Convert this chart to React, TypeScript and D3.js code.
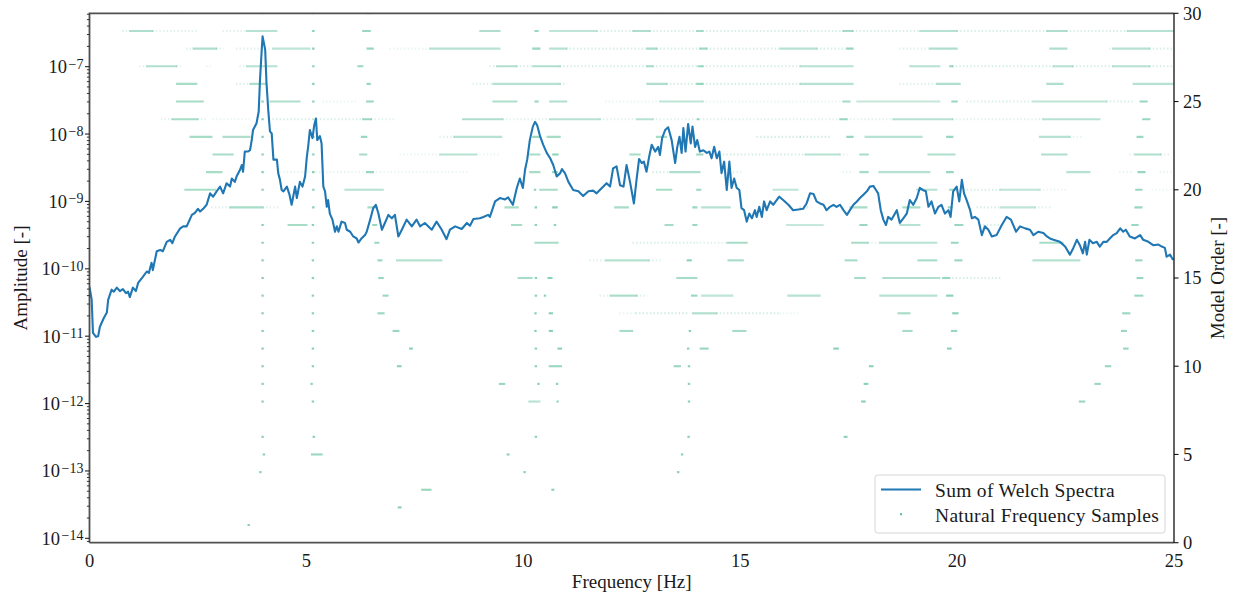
import * as d3 from 'd3';
import { useEffect, useRef } from 'react';

const WIDTH = 1234;
const HEIGHT = 594;
const LINE_COLOR = '#1f77b4';
const SAMPLE_COLOR = '#5dbf98';
const TEXT_COLOR = '#1a1a1a';
const FONT = '"Liberation Serif", "Times New Roman", serif';

const freqTicks = [0, 5, 10, 15, 20, 25];
const orderTicks = [0, 5, 10, 15, 20, 25, 30];
const amplitudeExponents = [-14, -13, -12, -11, -10, -9, -8, -7];

// [frequency in Hz, log10 of the summed Welch amplitude]
const welchSpectrum: [number, number][] = [
  [0, -10.27], [0.05, -10.46], [0.08, -10.95], [0.15, -11.01], [0.2, -11.0], [0.24, -10.86],
  [0.33, -10.73], [0.4, -10.65], [0.43, -10.46], [0.51, -10.31], [0.56, -10.34], [0.63, -10.28],
  [0.7, -10.33], [0.77, -10.3], [0.84, -10.36], [0.89, -10.34], [0.93, -10.42], [1.0, -10.28],
  [1.07, -10.33], [1.12, -10.21], [1.23, -10.12], [1.32, -10.04], [1.37, -10.06], [1.43, -9.91],
  [1.46, -10.02], [1.55, -9.74], [1.63, -9.72], [1.69, -9.74], [1.78, -9.6], [1.86, -9.57],
  [1.91, -9.62], [1.97, -9.52], [2.09, -9.4], [2.16, -9.37], [2.24, -9.37], [2.29, -9.3],
  [2.36, -9.2], [2.43, -9.17], [2.5, -9.11], [2.55, -9.15], [2.62, -9.11], [2.7, -9.05],
  [2.78, -8.88], [2.85, -8.93], [2.93, -8.85], [3.01, -8.78], [3.08, -8.88], [3.16, -8.73],
  [3.24, -8.78], [3.28, -8.66], [3.35, -8.71], [3.39, -8.63], [3.47, -8.53], [3.51, -8.46],
  [3.54, -8.56], [3.58, -8.26], [3.65, -8.26], [3.7, -8.24], [3.74, -8.09], [3.77, -7.94],
  [3.85, -7.84], [3.9, -7.67], [3.93, -7.2], [3.97, -6.75], [3.99, -6.55], [4.05, -6.75],
  [4.08, -7.24], [4.12, -7.64], [4.16, -7.96], [4.2, -7.99], [4.24, -8.38], [4.32, -8.38],
  [4.35, -8.58], [4.39, -8.68], [4.43, -8.83], [4.47, -8.85], [4.55, -8.78], [4.61, -8.9],
  [4.66, -9.05], [4.74, -8.78], [4.78, -8.95], [4.85, -8.71], [4.91, -8.78], [4.97, -8.63],
  [5.01, -8.34], [5.04, -8.19], [5.08, -7.94], [5.14, -8.06], [5.18, -7.87], [5.22, -7.77],
  [5.25, -8.09], [5.31, -8.03], [5.35, -8.14], [5.39, -8.78], [5.43, -8.85], [5.47, -9.08],
  [5.5, -8.98], [5.54, -9.18], [5.6, -9.27], [5.66, -9.45], [5.7, -9.37], [5.74, -9.45],
  [5.81, -9.3], [5.89, -9.32], [5.93, -9.42], [6.01, -9.45], [6.08, -9.52], [6.16, -9.55],
  [6.2, -9.61], [6.27, -9.55], [6.35, -9.5], [6.39, -9.45], [6.47, -9.27], [6.54, -9.1],
  [6.6, -9.05], [6.66, -9.18], [6.74, -9.42], [6.81, -9.32], [6.89, -9.2], [6.97, -9.25],
  [7.04, -9.2], [7.12, -9.52], [7.2, -9.42], [7.31, -9.27], [7.43, -9.37], [7.54, -9.27],
  [7.62, -9.37], [7.73, -9.32], [7.89, -9.42], [8.0, -9.3], [8.12, -9.42], [8.23, -9.56],
  [8.31, -9.42], [8.43, -9.37], [8.58, -9.41], [8.7, -9.32], [8.77, -9.36], [8.85, -9.26],
  [9.0, -9.25], [9.08, -9.23], [9.19, -9.2], [9.23, -9.23], [9.35, -9.0], [9.46, -8.95],
  [9.58, -8.97], [9.65, -8.94], [9.76, -9.05], [9.85, -8.8], [9.92, -8.66], [9.99, -8.8],
  [10.04, -8.53], [10.09, -8.38], [10.15, -8.09], [10.22, -7.89], [10.27, -7.82], [10.32, -7.87],
  [10.39, -8.04], [10.46, -8.16], [10.54, -8.28], [10.62, -8.36], [10.69, -8.46], [10.77, -8.63],
  [10.85, -8.58], [10.89, -8.52], [10.96, -8.58], [11.04, -8.71], [11.15, -8.83], [11.27, -8.85],
  [11.38, -8.92], [11.5, -8.85], [11.61, -8.84], [11.69, -8.88], [11.81, -8.8], [11.92, -8.73],
  [12.0, -8.78], [12.07, -8.51], [12.15, -8.48], [12.23, -8.76], [12.31, -8.78], [12.38, -8.46],
  [12.46, -8.71], [12.55, -9.03], [12.61, -8.68], [12.67, -8.37], [12.73, -8.43], [12.78, -8.41],
  [12.84, -8.56], [12.9, -8.34], [12.96, -8.16], [13.04, -8.26], [13.11, -8.19], [13.15, -8.31],
  [13.2, -8.06], [13.27, -7.94], [13.34, -7.9], [13.42, -8.09], [13.5, -8.43], [13.55, -8.19],
  [13.6, -8.04], [13.65, -8.28], [13.69, -7.91], [13.74, -8.26], [13.8, -7.85], [13.86, -8.14],
  [13.9, -7.89], [13.96, -8.19], [14.01, -8.09], [14.07, -8.26], [14.15, -8.24], [14.23, -8.28],
  [14.29, -8.26], [14.34, -8.36], [14.4, -8.19], [14.46, -8.36], [14.52, -8.26], [14.57, -8.58],
  [14.63, -8.41], [14.69, -8.83], [14.75, -8.41], [14.8, -8.8], [14.86, -8.66], [14.92, -8.8],
  [14.98, -8.83], [15.03, -9.1], [15.09, -9.13], [15.15, -9.3], [15.21, -9.18], [15.27, -9.25],
  [15.34, -9.13], [15.38, -9.23], [15.44, -9.08], [15.5, -9.23], [15.55, -9.0], [15.61, -9.13],
  [15.69, -9.0], [15.76, -9.05], [15.9, -8.93], [15.99, -8.98], [16.11, -9.05], [16.22, -9.13],
  [16.34, -9.12], [16.45, -9.11], [16.53, -9.03], [16.61, -8.88], [16.69, -8.89], [16.76, -9.0],
  [16.84, -9.03], [16.92, -9.05], [16.99, -9.13], [17.07, -9.08], [17.15, -9.05], [17.22, -9.08],
  [17.3, -9.05], [17.38, -9.13], [17.46, -9.2], [17.53, -9.13], [17.61, -9.05], [17.69, -9.0],
  [17.76, -8.95], [17.84, -8.9], [17.92, -8.85], [17.99, -8.78], [18.07, -8.77], [18.13, -8.83],
  [18.18, -8.88], [18.24, -9.13], [18.3, -9.27], [18.36, -9.35], [18.41, -9.23], [18.49, -9.27],
  [18.61, -9.13], [18.68, -9.32], [18.76, -9.25], [18.84, -9.18], [18.91, -8.98], [18.99, -9.05],
  [19.07, -8.95], [19.14, -8.8], [19.21, -8.83], [19.28, -8.85], [19.34, -9.08], [19.41, -9.0],
  [19.49, -9.18], [19.57, -9.08], [19.64, -9.05], [19.72, -9.18], [19.8, -9.13], [19.85, -9.23],
  [19.91, -8.85], [19.99, -8.78], [20.05, -9.0], [20.11, -8.68], [20.16, -8.88], [20.22, -8.98],
  [20.3, -9.13], [20.34, -9.25], [20.41, -9.23], [20.49, -9.27], [20.57, -9.5], [20.64, -9.37],
  [20.72, -9.42], [20.8, -9.52], [20.91, -9.5], [21.03, -9.35], [21.14, -9.23], [21.24, -9.27],
  [21.36, -9.45], [21.45, -9.37], [21.57, -9.4], [21.68, -9.42], [21.76, -9.5], [21.87, -9.45],
  [21.99, -9.47], [22.07, -9.52], [22.14, -9.55], [22.22, -9.57], [22.37, -9.6], [22.49, -9.67],
  [22.6, -9.79], [22.68, -9.69], [22.76, -9.57], [22.83, -9.65], [22.9, -9.77], [22.95, -9.6],
  [22.99, -9.79], [23.05, -9.57], [23.13, -9.62], [23.22, -9.6], [23.29, -9.67], [23.37, -9.6],
  [23.45, -9.6], [23.52, -9.55], [23.6, -9.5], [23.68, -9.47], [23.76, -9.4], [23.83, -9.45],
  [23.89, -9.42], [23.98, -9.52], [24.1, -9.55], [24.22, -9.5], [24.29, -9.57], [24.41, -9.6],
  [24.52, -9.65], [24.64, -9.64], [24.72, -9.67], [24.79, -9.69], [24.83, -9.82], [24.91, -9.79],
  [24.98, -9.87],
];

// [model order, lowest frequency, highest frequency, sample density]
const frequencySamples: [number, number, number, number][] = [
  [1, 3.67, 3.67, 0.8],
  [2, 7.12, 7.18, 0.8],
  [3, 7.66, 7.87, 0.7], [3, 10.66, 10.7, 0.8],
  [4, 3.94, 3.94, 0.8], [4, 10.03, 10.03, 0.8], [4, 13.57, 13.57, 0.8],
  [5, 4.02, 4.02, 0.8], [5, 5.12, 5.36, 0.7], [5, 9.63, 9.67, 0.8], [5, 13.66, 13.66, 0.8],
  [6, 3.99, 3.99, 0.8], [6, 5.17, 5.17, 0.8], [6, 10.29, 10.29, 0.8], [6, 13.81, 13.81, 0.8], [6, 17.4, 17.46, 0.8],
  [8, 3.99, 3.99, 0.8], [8, 5.15, 5.15, 0.8], [8, 10.13, 10.38, 0.5], [8, 10.78, 10.8, 0.8], [8, 13.82, 13.82, 0.8],
  [8, 17.8, 17.88, 0.8], [8, 22.82, 22.94, 0.7],
  [9, 3.99, 3.99, 0.8], [9, 5.12, 5.12, 0.8], [9, 9.45, 9.57, 0.7], [9, 10.35, 10.35, 0.8], [9, 10.78, 10.78, 0.8],
  [9, 13.82, 13.82, 0.8], [9, 17.86, 17.94, 0.8], [9, 23.18, 23.3, 0.7],
  [10, 3.99, 3.99, 0.8], [10, 5.15, 5.15, 0.8], [10, 7.1, 7.18, 0.8], [10, 10.29, 10.29, 0.8], [10, 10.6, 10.88, 0.7],
  [10, 13.48, 13.62, 0.7], [10, 13.82, 13.82, 0.8], [10, 17.98, 18.06, 0.8], [10, 23.42, 23.54, 0.7],
  [11, 3.99, 3.99, 0.8], [11, 5.15, 5.15, 0.8], [11, 7.38, 7.44, 0.8], [11, 10.29, 10.29, 0.8], [11, 10.8, 10.88, 0.8],
  [11, 13.8, 13.8, 0.8], [11, 14.08, 14.26, 0.7], [11, 17.16, 17.26, 0.8], [11, 19.78, 19.86, 0.8], [11, 23.84, 23.94, 0.7],
  [12, 3.99, 3.99, 0.8], [12, 5.15, 5.15, 0.8], [12, 7.0, 7.13, 0.7], [12, 10.28, 10.28, 0.8], [12, 10.6, 10.67, 0.8],
  [12, 12.23, 12.52, 0.6], [12, 13.84, 13.84, 0.8], [12, 14.83, 15.13, 0.6], [12, 18.75, 18.96, 0.6],
  [12, 19.87, 19.99, 0.7], [12, 23.79, 23.9, 0.7],
  [13, 3.99, 3.99, 0.8], [13, 5.15, 5.15, 0.8], [13, 6.65, 6.79, 0.7], [13, 10.28, 10.28, 0.8], [13, 10.6, 10.67, 0.8],
  [13, 12.23, 12.6, 0.15], [13, 12.6, 13.77, 0.3], [13, 13.9, 14.46, 0.55], [13, 14.46, 15.92, 0.28],
  [13, 15.92, 16.4, 0.12], [13, 18.64, 18.91, 0.6], [13, 19.9, 20.02, 0.8], [13, 23.82, 23.98, 0.7],
  [14, 3.99, 3.99, 0.8], [14, 5.15, 5.15, 0.8], [14, 6.77, 6.88, 0.7], [14, 10.29, 10.29, 0.8], [14, 10.5, 10.5, 0.8],
  [14, 11.77, 12.0, 0.2], [14, 12.0, 12.62, 0.6], [14, 12.62, 12.85, 0.2], [14, 13.88, 14.0, 0.7],
  [14, 14.11, 14.83, 0.45], [14, 16.1, 16.84, 0.5], [14, 18.22, 19.53, 0.5], [14, 19.76, 19.9, 0.8], [14, 24.1, 24.28, 0.7],
  [15, 3.99, 3.99, 0.8], [15, 5.15, 5.15, 0.8], [15, 6.67, 6.77, 0.7], [15, 9.88, 10.2, 0.6], [15, 10.29, 10.29, 0.8],
  [15, 10.57, 10.66, 0.8], [15, 13.54, 14.0, 0.6], [15, 17.64, 17.88, 0.6], [15, 18.29, 19.6, 0.55],
  [15, 19.67, 19.83, 0.7], [15, 19.9, 21.0, 0.28], [15, 24.15, 24.28, 0.7],
  [16, 3.99, 3.99, 0.8], [16, 5.15, 5.15, 0.8], [16, 6.65, 6.74, 0.7], [16, 7.08, 8.12, 0.5], [16, 11.54, 11.9, 0.2],
  [16, 11.9, 12.9, 0.5], [16, 12.9, 13.15, 0.2], [16, 13.78, 13.87, 0.8], [16, 14.72, 15.07, 0.6],
  [16, 17.42, 17.69, 0.6], [16, 19.1, 19.53, 0.6], [16, 19.95, 20.11, 0.7], [16, 21.75, 22.83, 0.5], [16, 24.12, 24.26, 0.7],
  [17, 3.99, 3.99, 0.8], [17, 5.15, 5.15, 0.8], [17, 6.58, 6.67, 0.7], [17, 10.27, 10.8, 0.6], [17, 12.53, 14.0, 0.25],
  [17, 14.0, 14.7, 0.2], [17, 14.7, 15.16, 0.6], [17, 17.57, 17.95, 0.6], [17, 17.95, 18.22, 0.2],
  [17, 18.22, 19.53, 0.5], [17, 19.87, 20.02, 0.7], [17, 21.91, 22.44, 0.6],
  [18, 3.99, 3.99, 0.8], [18, 4.58, 5.01, 0.6], [18, 5.15, 5.15, 0.8], [18, 6.53, 6.62, 0.7], [18, 9.73, 9.96, 0.6],
  [18, 10.29, 10.29, 0.8], [18, 10.73, 10.73, 0.8], [18, 13.27, 13.45, 0.6], [18, 13.91, 14.0, 0.7],
  [18, 16.07, 16.91, 0.4], [18, 17.76, 17.92, 0.7], [18, 18.68, 19.14, 0.5], [18, 19.95, 20.13, 0.7],
  [18, 20.53, 21.06, 0.25], [18, 24.03, 24.17, 0.7],
  [19, 2.82, 3.24, 0.2], [19, 3.24, 4.0, 0.6], [19, 4.0, 4.39, 0.2], [19, 5.16, 5.16, 0.8], [19, 6.42, 6.63, 0.6],
  [19, 9.58, 9.88, 0.6], [19, 10.29, 10.29, 0.8], [19, 10.68, 10.78, 0.8], [19, 12.11, 12.42, 0.6],
  [19, 13.91, 14.0, 0.7], [19, 14.11, 14.77, 0.5], [19, 16.38, 16.6, 0.3], [19, 17.53, 17.92, 0.6],
  [19, 18.75, 19.14, 0.6], [19, 19.8, 19.88, 0.7], [19, 20.46, 21.0, 0.25], [19, 21.0, 21.8, 0.45],
  [19, 21.8, 22.14, 0.2], [19, 24.1, 24.26, 0.7],
  [20, 2.2, 2.9, 0.6], [20, 3.99, 3.99, 0.8], [20, 5.16, 5.16, 0.8], [20, 5.89, 6.77, 0.5], [20, 10.27, 10.27, 0.8],
  [20, 10.38, 10.78, 0.6], [20, 13.07, 13.42, 0.6], [20, 14.0, 14.09, 0.7], [20, 15.76, 16.33, 0.45],
  [20, 19.07, 19.53, 0.5], [20, 19.83, 19.95, 0.7], [20, 20.07, 20.99, 0.28], [20, 20.99, 21.91, 0.45],
  [20, 21.91, 22.53, 0.15], [20, 24.12, 24.26, 0.7], [20, 24.5, 24.9, 0.12],
  [21, 2.7, 3.05, 0.6], [21, 3.99, 3.99, 0.8], [21, 4.39, 6.39, 0.15], [21, 5.16, 5.16, 0.8], [21, 6.39, 6.54, 0.7],
  [21, 6.54, 8.7, 0.12], [21, 10.15, 10.38, 0.6], [21, 10.68, 10.78, 0.8], [21, 12.99, 13.38, 0.25],
  [21, 13.38, 14.07, 0.55], [21, 14.76, 15.06, 0.15], [21, 17.37, 17.6, 0.15], [21, 17.76, 17.95, 0.6],
  [21, 18.2, 19.37, 0.5], [21, 19.76, 19.91, 0.7], [21, 22.53, 23.06, 0.5], [21, 23.75, 24.06, 0.15],
  [21, 24.17, 24.33, 0.7], [21, 24.68, 24.98, 0.15],
  [22, 2.85, 3.31, 0.6], [22, 3.99, 3.99, 0.8], [22, 5.16, 5.16, 0.8], [22, 6.23, 6.39, 0.6], [22, 7.16, 8.08, 0.15],
  [22, 8.08, 8.93, 0.5], [22, 9.0, 9.46, 0.15], [22, 10.15, 10.38, 0.6], [22, 10.68, 10.8, 0.8],
  [22, 12.46, 12.69, 0.6], [22, 14.0, 14.14, 0.7], [22, 14.53, 16.5, 0.28], [22, 16.5, 17.3, 0.5],
  [22, 17.3, 17.46, 0.2], [22, 17.76, 17.95, 0.6], [22, 19.33, 19.95, 0.55], [22, 21.95, 22.53, 0.55],
  [22, 23.98, 24.1, 0.2], [22, 24.1, 24.7, 0.55], [22, 24.7, 24.9, 0.2],
  [23, 2.32, 2.82, 0.6], [23, 3.08, 3.7, 0.55], [23, 3.99, 3.99, 0.8], [23, 5.16, 5.16, 0.8], [23, 6.27, 6.39, 0.7],
  [23, 8.08, 8.4, 0.2], [23, 8.4, 9.5, 0.5], [23, 10.22, 10.38, 0.7], [23, 10.55, 10.85, 0.6],
  [23, 13.07, 13.3, 0.6], [23, 15.39, 16.38, 0.28], [23, 16.38, 17.07, 0.28], [23, 17.46, 17.6, 0.7],
  [23, 17.88, 19.19, 0.5], [23, 19.76, 19.9, 0.7], [23, 21.9, 22.6, 0.5], [23, 22.6, 22.9, 0.15],
  [23, 24.15, 24.28, 0.7],
  [24, 1.66, 1.9, 0.2], [24, 1.9, 2.5, 0.6], [24, 2.5, 2.7, 0.2], [24, 2.85, 3.7, 0.15], [24, 3.99, 3.99, 0.8],
  [24, 4.23, 5.16, 0.28], [24, 5.16, 6.3, 0.25], [24, 6.3, 6.5, 0.7], [24, 6.5, 7.0, 0.2], [24, 8.6, 9.53, 0.55],
  [24, 9.53, 10.61, 0.2], [24, 10.61, 11.77, 0.5], [24, 11.77, 12.62, 0.2], [24, 12.62, 12.99, 0.5],
  [24, 12.99, 17.3, 0.2], [24, 14.03, 14.03, 0.8], [24, 17.3, 17.46, 0.7], [24, 17.46, 18.52, 0.2],
  [24, 18.52, 19.9, 0.5], [24, 19.9, 21.98, 0.2], [24, 21.98, 23.29, 0.5], [24, 24.28, 24.44, 0.7],
  [25, 2.01, 2.62, 0.6], [25, 3.99, 3.99, 0.8], [25, 4.16, 4.85, 0.55], [25, 5.16, 5.16, 0.8], [25, 5.38, 6.17, 0.15],
  [25, 6.39, 6.54, 0.7], [25, 9.3, 9.85, 0.55], [25, 10.27, 10.34, 0.7], [25, 10.61, 11.0, 0.55],
  [25, 11.9, 13.15, 0.15], [25, 13.15, 14.14, 0.45], [25, 14.14, 17.37, 0.15], [25, 17.37, 17.53, 0.6],
  [25, 17.69, 19.6, 0.4], [25, 19.88, 20.0, 0.7], [25, 20.23, 21.75, 0.25], [25, 21.75, 23.45, 0.45],
  [25, 23.45, 24.06, 0.25], [25, 24.22, 24.38, 0.7],
  [26, 2.01, 2.47, 0.6], [26, 3.39, 3.7, 0.2], [26, 3.7, 4.08, 0.55], [26, 5.16, 5.16, 0.8], [26, 6.4, 6.47, 0.7],
  [26, 8.84, 9.3, 0.2], [26, 9.3, 10.85, 0.5], [26, 10.85, 11.0, 0.2], [26, 12.85, 13.31, 0.55],
  [26, 13.31, 14.0, 0.25], [26, 14.0, 14.14, 0.7], [26, 14.14, 16.38, 0.28], [26, 16.38, 17.6, 0.5],
  [26, 18.68, 19.53, 0.2], [26, 19.53, 20.07, 0.55], [26, 22.07, 22.44, 0.55], [26, 24.06, 24.98, 0.5],
  [27, 1.16, 1.32, 0.2], [27, 1.32, 2.01, 0.55], [27, 2.01, 2.09, 0.2], [27, 2.7, 2.78, 0.15], [27, 3.47, 3.62, 0.2],
  [27, 3.62, 4.32, 0.5], [27, 5.16, 5.16, 0.8], [27, 6.19, 6.3, 0.7], [27, 9.23, 9.39, 0.25], [27, 9.39, 9.85, 0.55],
  [27, 9.85, 10.22, 0.28], [27, 10.22, 10.85, 0.55], [27, 10.85, 12.85, 0.28], [27, 12.85, 12.99, 0.6],
  [27, 12.99, 14.03, 0.28], [27, 14.03, 14.14, 0.7], [27, 14.14, 16.38, 0.28], [27, 16.38, 17.6, 0.5],
  [27, 18.91, 19.6, 0.5], [27, 19.83, 19.9, 0.7], [27, 19.9, 22.21, 0.28], [27, 22.21, 22.67, 0.5],
  [27, 22.67, 23.59, 0.28], [27, 23.59, 24.44, 0.5], [27, 24.44, 24.98, 0.28],
  [28, 2.24, 2.39, 0.2], [28, 2.39, 2.93, 0.55], [28, 2.93, 3.08, 0.2], [28, 3.39, 4.23, 0.2], [28, 4.23, 5.08, 0.45],
  [28, 5.16, 5.16, 0.8], [28, 6.4, 6.54, 0.7], [28, 6.93, 7.85, 0.15], [28, 7.85, 9.46, 0.5], [28, 10.22, 10.38, 0.7],
  [28, 10.61, 11.0, 0.5], [28, 11.0, 12.85, 0.25], [28, 12.85, 13.08, 0.6], [28, 13.08, 14.07, 0.25],
  [28, 14.07, 14.23, 0.65], [28, 14.23, 15.92, 0.25], [28, 15.92, 16.77, 0.5], [28, 16.77, 17.46, 0.25],
  [28, 17.46, 17.6, 0.7], [28, 18.68, 19.37, 0.2], [28, 19.37, 20.0, 0.55], [28, 22.14, 22.53, 0.55],
  [28, 23.52, 23.59, 0.2], [28, 23.59, 24.44, 0.5], [28, 24.44, 24.98, 0.25],
  [29, 0.77, 0.93, 0.2], [29, 0.93, 1.46, 0.55], [29, 1.46, 2.48, 0.2], [29, 3.08, 3.62, 0.2], [29, 3.62, 4.32, 0.5],
  [29, 5.16, 5.16, 0.8], [29, 6.3, 6.47, 0.7], [29, 9.0, 9.46, 0.55], [29, 10.27, 10.34, 0.7], [29, 10.61, 11.7, 0.45],
  [29, 11.7, 12.53, 0.25], [29, 12.53, 12.92, 0.55], [29, 12.92, 14.0, 0.25], [29, 14.0, 14.14, 0.6],
  [29, 14.14, 17.37, 0.25], [29, 17.37, 17.6, 0.6], [29, 17.6, 19.14, 0.25], [29, 19.14, 20.0, 0.5],
  [29, 20.0, 22.07, 0.25], [29, 22.07, 22.53, 0.55], [29, 22.53, 23.92, 0.25], [29, 23.92, 24.98, 0.5],
  [30, 1.8, 2.2, 0.3], [30, 3.99, 3.99, 0.5], [30, 5.15, 5.15, 0.5], [30, 6.4, 6.5, 0.5], [30, 13.0, 13.2, 0.3],
  [30, 17.3, 17.7, 0.3], [30, 19.2, 19.8, 0.3],
];

const superscript = (exp: number) => (exp < 0 ? '\u2212' : '') + Math.abs(exp);

export default function App() {
  const ref = useRef<SVGSVGElement>(null);

  useEffect(() => {
    const svg = d3.select(ref.current);
    svg.selectAll('*').remove();

    const left = 89.5;
    const right = 1174;
    const top = 13.3;
    const bottom = 542.7;

    const x = d3.scaleLinear().domain([0, 25]).range([left, right]);
    const yAmp = d3.scaleLog().domain([10 ** -14.065, 10 ** -6.208]).range([bottom, top]);
    const yOrder = d3.scaleLinear().domain([0, 30]).range([bottom, top]);

    svg.append('rect').attr('width', WIDTH).attr('height', HEIGHT).attr('fill', '#fff');

    svg.append('clipPath').attr('id', 'plot-clip')
      .append('rect')
      .attr('x', left).attr('y', top)
      .attr('width', right - left).attr('height', bottom - top);

    const plot = svg.append('g').attr('clip-path', 'url(#plot-clip)');

    // dense clusters of samples read as solid streaks, sparse ones as dotted trails
    plot.append('g')
      .selectAll('line')
      .data(frequencySamples)
      .enter()
      .append('line')
      .attr('x1', (d) => x(d[1]) - (d[1] === d[2] ? 1.2 : 0.6))
      .attr('x2', (d) => x(d[2]) + (d[1] === d[2] ? 1.2 : 0.6))
      .attr('y1', (d) => yOrder(d[0]))
      .attr('y2', (d) => yOrder(d[0]))
      .attr('stroke', SAMPLE_COLOR)
      .attr('stroke-width', 2.1)
      .attr('stroke-opacity', (d) => (d[3] < 0.35 ? d[3] : d[3] * 0.9))
      .attr('stroke-dasharray', (d) => (d[3] < 0.35 ? '1.4 2.2' : null));

    const line = d3.line<[number, number]>()
      .x((d) => x(d[0]))
      .y((d) => yAmp(10 ** d[1]));

    plot.append('path')
      .datum(welchSpectrum)
      .attr('d', line)
      .attr('fill', 'none')
      .attr('stroke', LINE_COLOR)
      .attr('stroke-width', 2.1)
      .attr('stroke-linejoin', 'round');

    // spines
    const spines = svg.append('g');
    spines.append('path')
      .attr('d', `M${left},${bottom}V${top}H${right}M${left},${bottom}H${right}`)
      .attr('fill', 'none')
      .attr('stroke', '#505050')
      .attr('stroke-width', 1.8);
    spines.append('line')
      .attr('x1', right).attr('x2', right).attr('y1', top).attr('y2', bottom)
      .attr('stroke', '#111').attr('stroke-width', 1.3);

    // left log axis
    const leftAxis = svg.append('g').attr('fill', TEXT_COLOR).style('font-family', FONT);
    const minorTicks: number[] = [];
    for (let e = -15; e <= -7; e += 1) {
      for (let m = 2; m <= 9; m += 1) {
        const v = m * 10 ** e;
        if (v > yAmp.domain()[0] && v < yAmp.domain()[1]) minorTicks.push(v);
      }
    }
    leftAxis.selectAll('line.minor')
      .data(minorTicks)
      .enter()
      .append('line')
      .attr('class', 'minor')
      .attr('x1', left - 2.6).attr('x2', left)
      .attr('y1', (d) => yAmp(d)).attr('y2', (d) => yAmp(d))
      .attr('stroke', '#222').attr('stroke-width', 0.9);
    leftAxis.selectAll('line.major')
      .data(amplitudeExponents)
      .enter()
      .append('line')
      .attr('class', 'major')
      .attr('x1', left - 4.5).attr('x2', left)
      .attr('y1', (d) => yAmp(10 ** d)).attr('y2', (d) => yAmp(10 ** d))
      .attr('stroke', '#222').attr('stroke-width', 1.1);
    const leftLabels = leftAxis.selectAll('text.tick')
      .data(amplitudeExponents)
      .enter()
      .append('text')
      .attr('class', 'tick')
      .attr('x', left - 6)
      .attr('y', (d) => yAmp(10 ** d) + 6.5)
      .attr('text-anchor', 'end')
      .style('font-size', '18.5px');
    leftLabels.append('tspan').text('10');
    leftLabels.append('tspan')
      .attr('dx', 1.5)
      .attr('dy', -4.5)
      .style('font-size', '14px')
      .text((d) => superscript(d));

    // right axis
    const rightAxis = svg.append('g').attr('fill', TEXT_COLOR).style('font-family', FONT);
    rightAxis.selectAll('line')
      .data(orderTicks)
      .enter()
      .append('line')
      .attr('x1', right).attr('x2', right + 4.5)
      .attr('y1', (d) => yOrder(d)).attr('y2', (d) => yOrder(d))
      .attr('stroke', '#111').attr('stroke-width', 1.1);
    rightAxis.selectAll('text')
      .data(orderTicks)
      .enter()
      .append('text')
      .attr('x', right + 9)
      .attr('y', (d) => yOrder(d) + 6.3)
      .style('font-size', '18.5px')
      .text((d) => d);

    // bottom axis
    const bottomAxis = svg.append('g').attr('fill', TEXT_COLOR).style('font-family', FONT);
    bottomAxis.selectAll('text')
      .data(freqTicks)
      .enter()
      .append('text')
      .attr('x', (d) => x(d))
      .attr('y', bottom + 24.5)
      .attr('text-anchor', 'middle')
      .style('font-size', '18.5px')
      .text((d) => d);

    // axis titles
    const titles = svg.append('g').attr('fill', TEXT_COLOR).style('font-family', FONT).style('font-size', '19px');
    titles.append('text')
      .attr('x', (left + right) / 2)
      .attr('y', 588)
      .attr('text-anchor', 'middle')
      .text('Frequency [Hz]');
    titles.append('text')
      .attr('transform', `translate(27,${(top + bottom) / 2}) rotate(-90)`)
      .attr('text-anchor', 'middle')
      .text('Amplitude [-]');
    titles.append('text')
      .attr('transform', `translate(1224,${(top + bottom) / 2}) rotate(-90)`)
      .attr('text-anchor', 'middle')
      .text('Model Order [-]');

    // legend
    const legend = svg.append('g').style('font-family', FONT).style('font-size', '19.5px').style('letter-spacing', '0.3px');
    legend.append('rect')
      .attr('x', 875).attr('y', 475)
      .attr('width', 290).attr('height', 58)
      .attr('rx', 3)
      .attr('fill', '#fff').attr('fill-opacity', 0.85)
      .attr('stroke', '#d6d6d6').attr('stroke-width', 1);
    legend.append('line')
      .attr('x1', 881).attr('x2', 921)
      .attr('y1', 489.5).attr('y2', 489.5)
      .attr('stroke', LINE_COLOR).attr('stroke-width', 2.1);
    legend.append('rect')
      .attr('x', 900).attr('y', 513.2)
      .attr('width', 2).attr('height', 2)
      .attr('fill', SAMPLE_COLOR);
    legend.append('text').attr('x', 935).attr('y', 496.5).attr('fill', TEXT_COLOR).text('Sum of Welch Spectra');
    legend.append('text').attr('x', 935).attr('y', 521.5).attr('fill', TEXT_COLOR).text('Natural Frequency Samples');

    return () => {
      svg.selectAll('*').remove();
    };
  }, []);

  return (
    <svg
      ref={ref}
      width={WIDTH}
      height={HEIGHT}
      style={{ position: 'absolute', left: 0, top: 0, display: 'block' }}
      role="img"
      aria-label="Welch spectrum and natural frequency samples"
    />
  );
}
